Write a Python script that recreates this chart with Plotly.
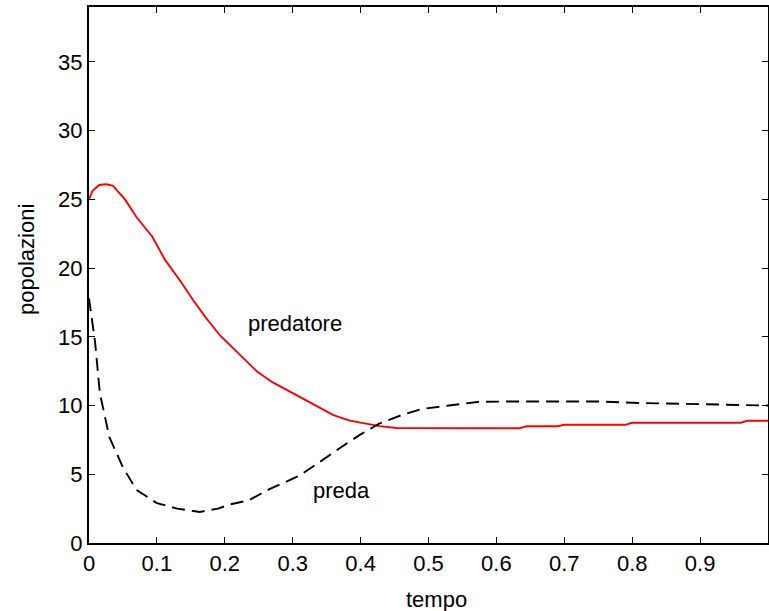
import plotly.graph_objects as go

# predatore (red, solid)
t_pred = [0.0, 0.005, 0.015, 0.025, 0.035, 0.053, 0.07, 0.093, 0.112, 0.134, 0.153, 0.172, 0.193,
          0.22, 0.247, 0.27, 0.296, 0.32, 0.34, 0.36, 0.384, 0.41, 0.428, 0.453, 0.5, 0.55, 0.6,
          0.634, 0.645, 0.69, 0.70, 0.79, 0.80, 0.96, 0.97, 1.0]
pred = [25.0, 25.6, 26.05, 26.1, 26.0, 25.0, 23.7, 22.3, 20.6, 19.1, 17.7, 16.4, 15.1,
        13.8, 12.5, 11.7, 11.0, 10.4, 9.8, 9.3, 8.9, 8.65, 8.5, 8.37, 8.35, 8.35, 8.35,
        8.35, 8.5, 8.5, 8.6, 8.6, 8.75, 8.75, 8.9, 8.9]

# preda (black, dashed)
t_prey = [0.0, 0.009, 0.016, 0.03, 0.05, 0.07, 0.1, 0.13, 0.163, 0.19, 0.207, 0.235,
          0.265, 0.31, 0.34, 0.369, 0.4, 0.428, 0.46, 0.49, 0.53, 0.575, 0.65, 0.75,
          0.80, 0.90, 0.95, 1.0]
prey = [17.8, 14.6, 10.9, 7.7, 5.5, 3.86, 2.9, 2.5, 2.26, 2.5, 2.8, 3.1,
        3.9, 4.9, 5.9, 6.9, 7.9, 8.7, 9.3, 9.75, 10.0, 10.28, 10.3, 10.3,
        10.2, 10.1, 10.0, 10.0]

x_ticks = [0, 0.1, 0.2, 0.3, 0.4, 0.5, 0.6, 0.7, 0.8, 0.9, 1]
x_tick_labels = ["0", "0.1", "0.2", "0.3", "0.4", "0.5", "0.6", "0.7", "0.8", "0.9", "1"]
y_ticks = [0, 5, 10, 15, 20, 25, 30, 35]

FONT = "Liberation Sans, Arial, sans-serif"
FS = 22

fig = go.Figure()
fig.add_trace(go.Scatter(x=t_pred, y=pred, mode="lines",
                         line=dict(color="#ff0000", width=1.9), name="predatore"))
fig.add_trace(go.Scatter(x=t_prey, y=prey, mode="lines",
                         line=dict(color="#000000", width=1.9, dash="13px,7px"), name="preda"))

fig.add_annotation(x=0.304, y=16.0, text="predatore", showarrow=False,
                   font=dict(size=FS, color="black", family=FONT))
fig.add_annotation(x=0.372, y=3.8, text="preda", showarrow=False,
                   font=dict(size=FS, color="black", family=FONT))

# axis titles placed as paper annotations
fig.add_annotation(xref="paper", yref="paper", x=(437 - 89) / 679, y=-(599 - 543) / 536,
                   text="tempo", showarrow=False, xanchor="center", yanchor="middle",
                   font=dict(size=FS, color="black", family=FONT))
fig.add_annotation(xref="paper", yref="paper", x=-(89 - 26) / 679, y=(543 - 260) / 536,
                   text="popolazioni", showarrow=False, textangle=-90,
                   xanchor="center", yanchor="middle",
                   font=dict(size=FS, color="black", family=FONT))

axis_common = dict(showline=True, linecolor="black", linewidth=2, mirror="ticks",
                   ticks="inside", ticklen=6, tickwidth=1.2, tickcolor="black",
                   showgrid=False, zeroline=False, automargin=False,
                   tickfont=dict(size=FS, color="black", family=FONT))

fig.update_xaxes(range=[0, 1], tickvals=x_ticks, ticktext=x_tick_labels, **axis_common)
fig.update_yaxes(range=[0, 39], tickvals=y_ticks, **axis_common)

fig.update_layout(width=769, height=611, showlegend=False,
                  plot_bgcolor="white", paper_bgcolor="white",
                  margin=dict(l=89, r=1, t=7, b=68))

fig.write_html("out.html", config={"displayModeBar": False},
               post_script="document.body.style.margin='0px';document.body.style.overflow='hidden';")
